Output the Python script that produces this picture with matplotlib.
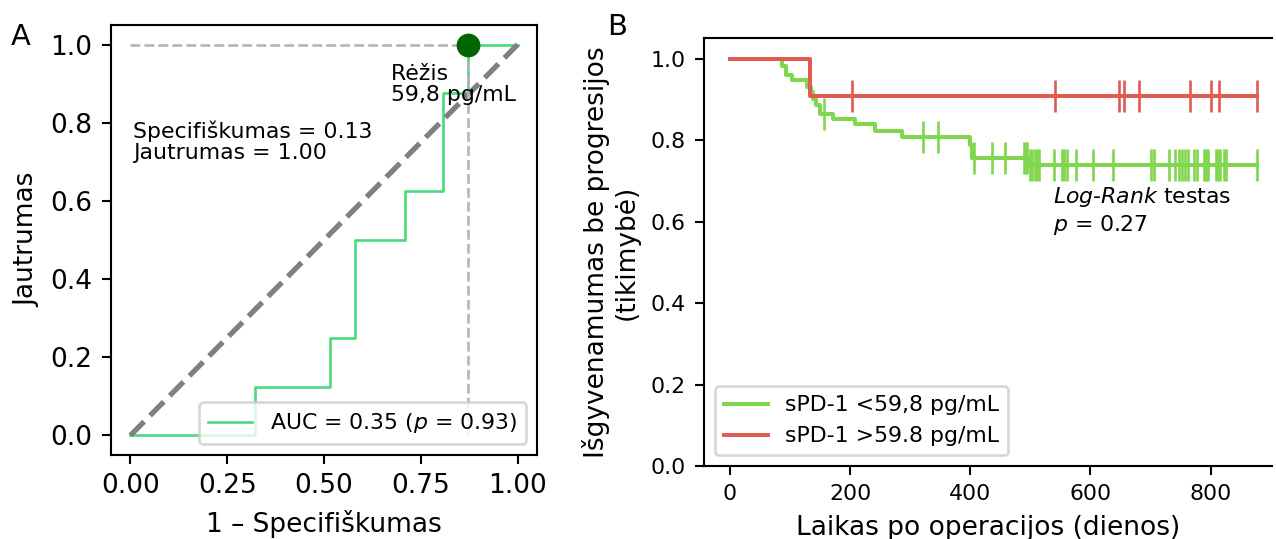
import matplotlib
matplotlib.use('Agg')
import matplotlib.pyplot as plt
import numpy as np

# A: ROC kreive
roc_fpr = [0.0, 0.323, 0.323, 0.516, 0.516, 0.581, 0.581, 0.710, 0.710, 0.806, 0.806, 0.871, 0.871, 1.0]
roc_tpr = [0.0, 0.0, 0.125, 0.125, 0.25, 0.25, 0.5, 0.5, 0.625, 0.625, 0.875, 0.875, 1.0, 1.0]
cut_fpr = 0.871
cut_tpr = 1.0
auc_label = "AUC = 0.35 ($p$ = 0.93)"
cut_text = "Rėžis\n59,8 pg/mL"
spec_text = "Specifiškumas = 0.13\nJautrumas = 1.00"

# B: Kaplan-Meier
low_t = [0, 87, 93, 103, 129, 135, 139, 143, 150, 171, 209, 242, 286, 399, 403, 497]
low_s = [1.0, 0.981, 0.960, 0.948, 0.931, 0.917, 0.902, 0.886, 0.865, 0.853, 0.840, 0.823, 0.807, 0.787, 0.757, 0.738]
low_censor = [156, 322, 346, 406, 436, 457, 489, 492, 494, 499, 502, 507, 511, 515, 540, 553, 556, 561, 576,
              605, 637, 701, 705, 730, 741, 747, 752, 758, 762, 772, 778, 789, 792, 795, 808, 812, 816,
              822, 826, 877]
high_t = [0, 133]
high_s = [1.0, 0.909]
high_censor = [204, 541, 647, 656, 680, 765, 800, 813, 877]
t_end = 877

green_roc = '#4ad97c'
green_km = '#80d64c'
red_km = '#df5a50'

W, H, DPI = 1276, 539, 190
fig = plt.figure(figsize=(W / DPI, H / DPI), dpi=DPI)

# ---- A ----
axA = fig.add_axes([111 / W, 1 - 455 / H, 426 / W, 430 / H])
axA.plot(roc_fpr, roc_tpr, color=green_roc, lw=1, label=auc_label)
axA.plot([0, 1], [0, 1], ls='--', color='gray', lw=2)
axA.plot([0, cut_fpr], [cut_tpr, cut_tpr], ls='--', color='#b5b5b5', lw=1)
axA.plot([cut_fpr, cut_fpr], [0, cut_tpr], ls='--', color='#b5b5b5', lw=1)
axA.plot([cut_fpr], [cut_tpr], 'o', color='darkgreen', ms=8, zorder=5)
axA.text(0.672, 0.950, cut_text, fontsize='small', va='top', ha='left', linespacing=1.05)
axA.text(0.006, 0.805, spec_text, fontsize='small', va='top', ha='left', linespacing=1.05)
axA.set_xlim(-0.05, 1.05)
axA.set_ylim(-0.05, 1.05)
axA.set_xticks([0, 0.25, 0.5, 0.75, 1.0])
axA.set_xlabel("1 – Specifiškumas")
axA.set_ylabel("Jautrumas")
axA.legend(loc='lower right', fontsize='small')


def km_line(ax, t, s, cens, color, label):
    t_all = list(t) + [t_end]
    s_all = list(s) + [s[-1]]
    ax.step(t_all, s_all, where='post', color=color, lw=1.5, label=label)
    idx = np.searchsorted(t, cens, side='right') - 1
    ax.plot(cens, np.array(s)[idx], ls='none', marker='|', ms=12, mew=1, color=color)


# ---- B ----
axB = fig.add_axes([704 / W, 1 - 466 / H, 568 / W, 427.7 / H])
km_line(axB, low_t, low_s, low_censor, green_km, "sPD-1 <59,8 pg/mL")
km_line(axB, high_t, high_s, high_censor, red_km, "sPD-1 >59.8 pg/mL")
axB.text(538, 0.69, "$\\it{Log}$-$\\it{Rank}$ testas\n$p$ = 0.27", fontsize='small', va='top', ha='left')
axB.set_xlim(-43, 902)
axB.set_ylim(0, 1.05)
axB.spines['right'].set_visible(False)
axB.tick_params(labelsize='small')
axB.set_xlabel("Laikas po operacijos (dienos)")
axB.set_ylabel("Išgyvenamumas be progresijos\n(tikimybė)")
axB.legend(loc='lower left', fontsize='small')

fig.text(11 / W, 1 - 23 / H, "A", fontsize=11, va='top', ha='left')
fig.text(607 / W, 1 - 13 / H, "B", fontsize=11, va='top', ha='left')

fig.savefig('out.png', dpi=DPI)
